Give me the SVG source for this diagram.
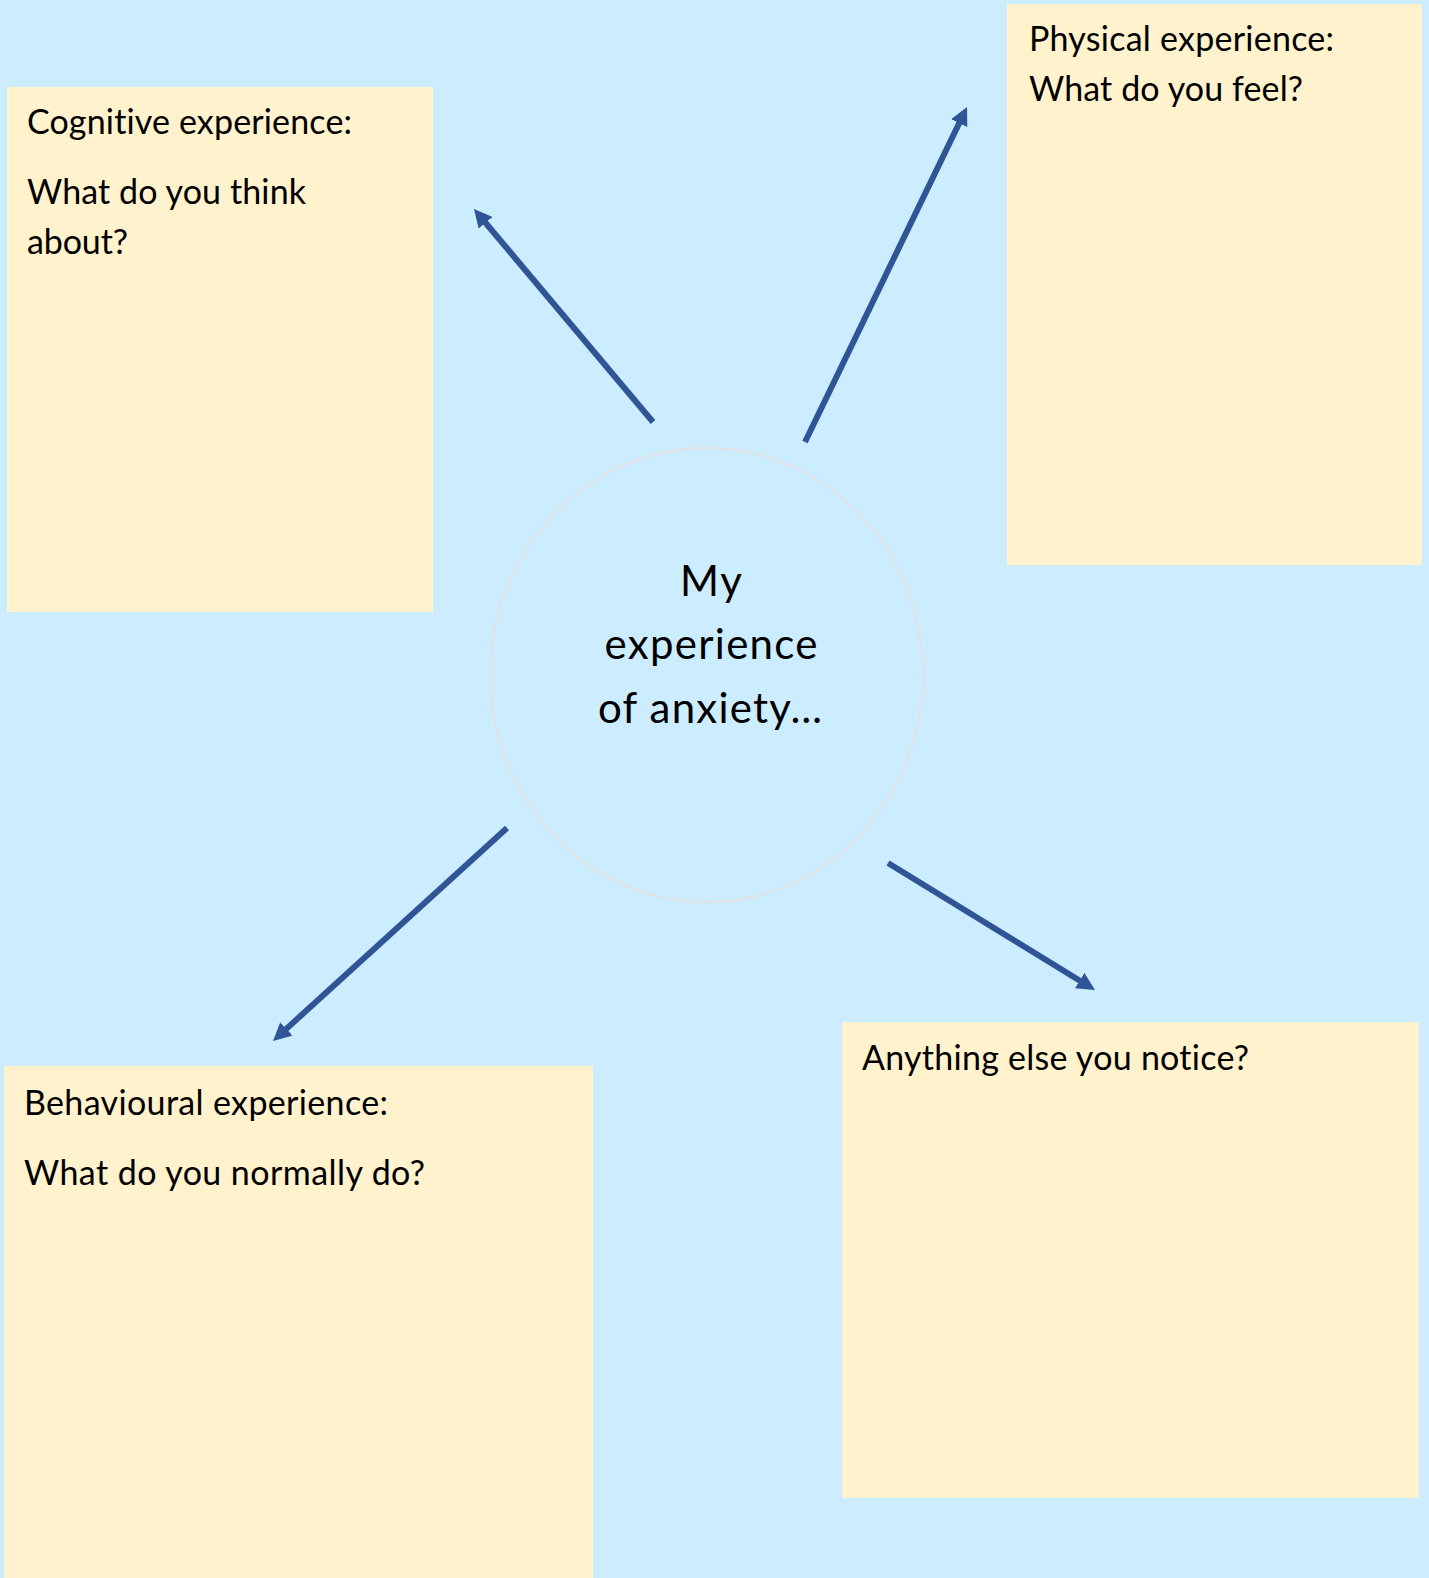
<svg xmlns="http://www.w3.org/2000/svg" width="1429" height="1578" viewBox="0 0 1429 1578">
  <style>
    .box { fill: #FFF2CC; }
    .t { font-family: Lato, "Liberation Sans", sans-serif; font-size: 34px; fill: #000; font-variant-ligatures: none; }
    .c { font-family: Lato, "Liberation Sans", sans-serif; font-size: 42px; fill: #000; text-anchor: middle; font-variant-ligatures: none; }
    .arrow { stroke: #2F5597; stroke-width: 6; fill: none; marker-end: url(#head); }
  </style>
  <defs>
    <marker id="head" markerUnits="userSpaceOnUse" markerWidth="18" markerHeight="18" viewBox="0 0 18 18" refX="6" refY="9" orient="auto">
      <path d="M0,0 L18,9 L0,18 Z" fill="#2F5597"/>
    </marker>
  </defs>
  <rect x="0" y="0" width="1429" height="1578" fill="#CCECFF"/>

  <g id="cognitive">
    <rect class="box" x="7" y="87" width="426" height="525"/>
    <text class="t" x="27" y="134" textLength="325">Cognitive experience:</text>
    <text class="t" x="27" y="204" textLength="279">What do you think</text>
    <text class="t" x="27" y="254" textLength="101">about?</text>
  </g>

  <g id="physical">
    <rect class="box" x="1007" y="4" width="415" height="561"/>
    <text class="t" x="1029" y="51" textLength="305">Physical experience:</text>
    <text class="t" x="1029" y="101" textLength="274">What do you feel?</text>
  </g>

  <g id="behavioural">
    <rect class="box" x="4" y="1066" width="589" height="512"/>
    <text class="t" x="24" y="1115" textLength="364">Behavioural experience:</text>
    <text class="t" x="24" y="1185" textLength="401">What do you normally do?</text>
  </g>

  <g id="anything">
    <rect class="box" x="842" y="1022" width="577" height="476"/>
    <text class="t" x="862" y="1070" textLength="387">Anything else you notice?</text>
  </g>

  <g id="center">
    <ellipse cx="706.5" cy="675" rx="216.5" ry="227" fill="none" stroke="#E2E2E2" stroke-width="2"/>
    <text class="c" x="711" y="596" textLength="62">My</text>
    <text class="c" x="711" y="659" textLength="213">experience</text>
    <text class="c" x="710" y="723" textLength="224">of anxiety…</text>
  </g>

  <g id="connectors">
    <line class="arrow" x1="653" y1="422" x2="481.7" y2="218.2"/>
    <line class="arrow" x1="805" y1="442" x2="961.8" y2="117.8"/>
    <line class="arrow" x1="507" y1="828" x2="281.9" y2="1032.9"/>
    <line class="arrow" x1="888" y1="863" x2="1084.8" y2="983.7"/>
  </g>
</svg>
